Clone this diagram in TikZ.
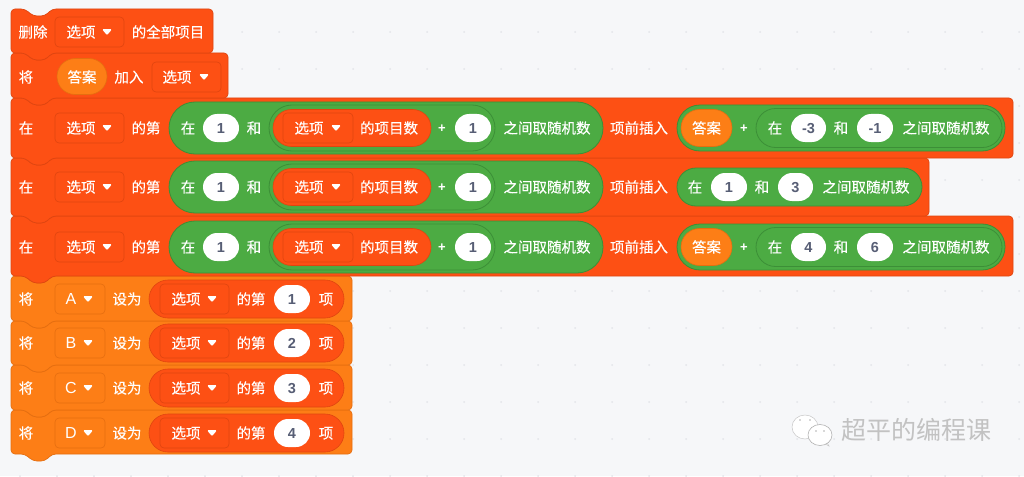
\documentclass[tikz,border=0pt]{standalone}
\usepackage{fontspec}
\setmainfont{Noto Sans CJK SC}[FakeBold=0.25]
\newfontfamily\wmfont{Noto Sans CJK SC}
\newfontfamily\lat{Liberation Sans}
\definecolor{bg}{HTML}{F6F7F9}
\definecolor{dotc}{HTML}{E3E5E9}
\definecolor{redb}{HTML}{FD5014}
\definecolor{redd}{HTML}{DF4510}
\definecolor{orab}{HTML}{FD7E16}
\definecolor{orad}{HTML}{E56E10}
\definecolor{grn}{HTML}{4CAB43}
\definecolor{grnd}{HTML}{3C8F37}
\definecolor{slate}{HTML}{575E75}
\definecolor{wm}{HTML}{C2C2C2}
\tikzset{
  x=1pt,y=-1pt,
  redblock/.style={fill=redb,draw=redd,line width=.7pt,rounded corners=4pt},
  orablock/.style={fill=orab,draw=orad,line width=.7pt,rounded corners=4pt},
  grnpill/.style={fill=grn,draw=grnd,line width=.8pt},
  redpill/.style={fill=redb,draw=redd,line width=.6pt},
  orapill/.style={fill=orab,draw=orad,line width=.6pt},
  whitepill/.style={fill=white,draw=none},
  txt/.style={text=white,inner sep=0pt,font=\fontsize{14.5}{15}\selectfont,text height=11.5pt,text depth=.5pt},
  lettxt/.style={text=white,inner sep=0pt,font=\fontsize{16}{16}\lat\selectfont,text height=11.5pt,text depth=0pt},
  numtxt/.style={text=slate,inner sep=0pt,font=\fontsize{14.5}{15}\lat\bfseries\selectfont,text height=10.5pt,text depth=0pt},
  plustxt/.style={text=white,inner sep=0pt,font=\fontsize{13}{15}\lat\bfseries\selectfont,text height=9.5pt,text depth=0pt},
}
\newcount\nodeno
\newcommand{\nm}{\global\advance\nodeno by 1 }
\newcommand{\T}[3]{\nm\node[txt] (t\the\nodeno) at (#1,#2) {#3};}
\newcommand{\Lt}[3]{\nm\node[lettxt] (t\the\nodeno) at (#1,#2) {#3};}
\newcommand{\Pl}[2]{\nm\node[plustxt] (t\the\nodeno) at (#1,#2) {+};}
% pill: style, x1, x2, yc, half height
\newcommand{\Pill}[5]{\draw[#1,rounded corners=#5pt] (#2,#4-#5) rectangle (#3,#4+#5);}
% white number pill: x1,x2,yc,text
\newcommand{\Num}[4]{\Pill{whitepill}{#1}{#2}{#3}{14}
  \nm\node[numtxt] (t\the\nodeno) at ({(#1+#2)/2},#3) {#4};}
% arrow of a dropdown
\newcommand{\Arr}[2]{\fill[white,rounded corners=1.2pt] (#1-5,#2-2.8) -- (#1+5,#2-2.8) -- (#1,#2+3.2) -- cycle;}
% dropdown: fill,line,x1,x2,yc
\newcommand{\Drop}[5]{\draw[fill=#1,draw=#2,line width=.6pt,rounded corners=4pt] (#3,#5-15) rectangle (#4,#5+15);}
\newcommand{\DD}[8]{\Drop{#1}{#2}{#3}{#4}{#5}\T{#7}{#5}{#6}\Arr{#8}{#5}}
\newcommand{\LD}[8]{\Drop{#1}{#2}{#3}{#4}{#5}\Lt{#7}{#5}{#6}\Arr{#8}{#5}}
% block: style,x2,y1,y2
\newcommand{\Block}[4]{\draw[#1] (11,#3) -- (25,#3) -- (33,#3+7) -- (45,#3+7) -- (52,#3) -- (#2,#3) -- (#2,#4) -- (52,#4) -- (45,#4+7) -- (33,#4+7) -- (25,#4) -- (11,#4) -- cycle;}
% left part of the insert rows
\newcommand{\RowLeft}[1]{%
  \T{26}{#1}{在}
  \DD{redb}{redd}{55}{124}{#1}{选项}{81}{107}
  \T{146}{#1}{的第}
  \Pill{grnpill}{169}{603}{#1}{26}
  \T{188}{#1}{在}
  \Num{203}{239}{#1}{1}
  \T{254}{#1}{和}
  \Pill{grnpill}{269}{495}{#1}{23}
  \Pill{redpill}{273}{431}{#1}{18.5}
  \DD{redb}{redd}{283}{353}{#1}{选项}{309}{336}
  \T{389}{#1}{的项目数}
  \Pl{442}{#1}
  \Num{455}{491}{#1}{1}
  \T{547}{#1}{之间取随机数}
  \T{639}{#1}{项前插入}
}
\newcommand{\RowRight}[3]{%
  \Pill{grnpill}{677}{1005}{#1}{23}
  \Pill{orapill}{681}{732}{#1}{18.5}
  \T{706.5}{#1}{答案}
  \Pl{744}{#1}
  \Pill{grnpill}{756}{1002}{#1}{19.5}
  \T{775}{#1}{在}
  \Num{791}{826}{#1}{#2}
  \T{841}{#1}{和}
  \Num{857}{893}{#1}{#3}
  \T{946}{#1}{之间取随机数}
}
\newcommand{\SetRow}[3]{%
  \T{26}{#1}{将}
  \LD{orab}{orad}{55}{105}{#1}{#2}{71}{88}
  \T{127}{#1}{设为}
  \Pill{redpill}{149}{344}{#1}{19}
  \DD{redb}{redd}{160}{229}{#1}{选项}{186}{212}
  \T{251}{#1}{的第}
  \Num{274}{310}{#1}{#3}
  \T{326}{#1}{项}
}
\begin{document}
\begin{tikzpicture}
\useasboundingbox (0,0) rectangle (1024,476);
\fill[bg] (0,0) rectangle (1024,476);
% workspace dots
\foreach \i in {0,...,27}{\foreach \j in {0,...,12}{
  \fill[dotc] ({20+37*\i},{32+37*\j}) circle (1pt);}}
% stacked blocks, bottom one first so each tab covers the notch below
\Block{orablock}{352}{410}{454}
\Block{orablock}{352}{365}{410}
\Block{orablock}{352}{321}{365}
\Block{orablock}{352}{276}{321}
\Block{redblock}{1013}{216}{276}
\Block{redblock}{929}{158}{216}
\Block{redblock}{1013}{98}{158}
\Block{redblock}{228}{53}{98}
\Block{redblock}{213}{9}{53}
% block 1
\T{33}{32}{删除}
\DD{redb}{redd}{55}{124}{32}{选项}{81}{107}
\T{168}{32}{的全部项目}
% block 2
\T{26}{77}{将}
\Pill{orapill}{57}{107}{76.5}{18}
\T{82}{77}{答案}
\T{129}{77}{加入}
\DD{redb}{redd}{152}{221}{77}{选项}{177}{204}
% insert rows
\RowLeft{128}
\RowRight{128}{-3}{-1}
\RowLeft{187}
\Pill{grnpill}{677}{922}{187}{19}
\T{695}{187}{在}
\Num{711}{747}{187}{1}
\T{762}{187}{和}
\Num{778}{813}{187}{3}
\T{866}{187}{之间取随机数}
\RowLeft{247}
\RowRight{247}{4}{6}
% set rows
\SetRow{299}{A}{1}
\SetRow{343}{B}{2}
\SetRow{388}{C}{3}
\SetRow{433}{D}{4}
% watermark
\draw[fill=white,draw=gray!45,line width=.5pt] (805,427) ellipse (13 and 12);
\draw[fill=white,draw=gray!45,line width=.5pt] (812,437) -- (829,446) -- (826,441) -- cycle;
\draw[fill=white,draw=gray!60,line width=.6pt] (820,435) ellipse (12 and 10.5);
\fill[gray!60] (800,420) circle (.9pt) (810,420) circle (.9pt) (816,431) circle (.9pt) (824,431) circle (.9pt);
\node[inner sep=0pt,text=wm,font=\fontsize{25}{25}\wmfont\selectfont] (wmark) at (916,430) {超平的编程课};
\end{tikzpicture}
\end{document}
